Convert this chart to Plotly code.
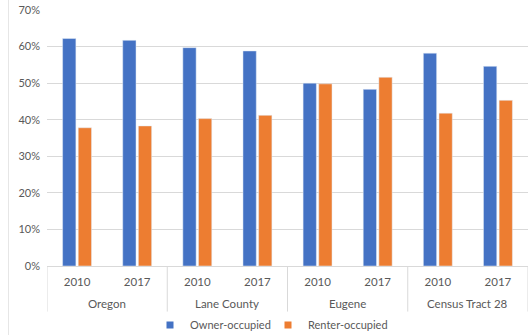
import plotly.graph_objects as go

regions = ["Oregon", "Lane County", "Eugene", "Census Tract 28"]
years = ["2010", "2017"]
owner = [62.2, 61.7, 59.7, 58.8, 50.0, 48.3, 58.2, 54.6]
renter = [37.8, 38.3, 40.3, 41.2, 49.8, 51.6, 41.8, 45.3]
y_ticks = [0, 10, 20, 30, 40, 50, 60, 70]

series_names = ["Owner-occupied", "Renter-occupied"]
series_colors = ["#4472c4", "#ed7d31"]

font_family = "Lato, Open Sans, sans-serif"
text_grey = "#595959"
line_grey = "#d9d9d9"

# one category per region/year pair, labelled by year on the axis
cats = [f"{r} {y}" for r in regions for y in years]
cat_years = [y for r in regions for y in years]

fig = go.Figure()
legends = ["legend", "legend2"]
for name, vals, col, lg in zip(series_names, [owner, renter], series_colors, legends):
    fig.add_trace(go.Bar(x=cats, y=vals, name=name,
                         marker_color=col, showlegend=False))
    # small square legend keys
    fig.add_trace(go.Scatter(x=[cats[0]], y=[None], name=name, mode="markers",
                             marker=dict(symbol="square", size=7, color=col),
                             showlegend=True, legend=lg))

# region names centred under each pair of years, with group dividers
n_per = len(years)
for i, r in enumerate(regions):
    fig.add_annotation(x=i * n_per + (n_per - 1) / 2, xref="x", y=0, yref="paper",
                       yshift=-37, yanchor="middle", showarrow=False, text=r,
                       font=dict(size=11.5, color=text_grey))
for i in range(len(regions) + 1):
    xd = i * n_per - 0.5
    fig.add_shape(type="line", xref="x", yref="paper", x0=xd, x1=xd,
                  y0=0, y1=-0.178, line=dict(color=line_grey, width=1))

legend_style = dict(orientation="h", xref="container", xanchor="left",
                    yref="container", y=0.03, yanchor="middle",
                    bgcolor="rgba(0,0,0,0)",
                    font=dict(size=11, color=text_grey))

fig.update_layout(
    width=531, height=335,
    margin=dict(l=47, r=3, t=10, b=69),
    paper_bgcolor="white", plot_bgcolor="white",
    barmode="group", bargap=0.48, bargroupgap=0.15,
    font=dict(family=font_family, size=11, color=text_grey),
    showlegend=True,
    legend=dict(x=150 / 531, **legend_style),
    legend2=dict(x=268 / 531, **legend_style),
    xaxis=dict(type="category", tickvals=cats, ticktext=cat_years,
               range=[-0.5, len(cats) - 0.5],
               showline=True, linecolor=line_grey,
               tickfont=dict(size=11.5, color=text_grey),
               ticks="outside", ticklen=5, tickcolor="rgba(0,0,0,0)",
               automargin=False),
    yaxis=dict(range=[0, 70], tickvals=y_ticks,
               ticktext=[f"{v}%" for v in y_ticks],
               showgrid=True, gridcolor=line_grey, gridwidth=1,
               zeroline=False, ticks="", ticklabelstandoff=6,
               tickfont=dict(size=11, color=text_grey), automargin=False),
)

# light frame edge on the left of the chart area
fig.add_shape(type="line", xref="paper", yref="paper",
              x0=-0.08, x1=-0.08, y0=-0.28, y1=1.05,
              line=dict(color="#e6e6e6", width=1))

fig.write_html("out.html")
